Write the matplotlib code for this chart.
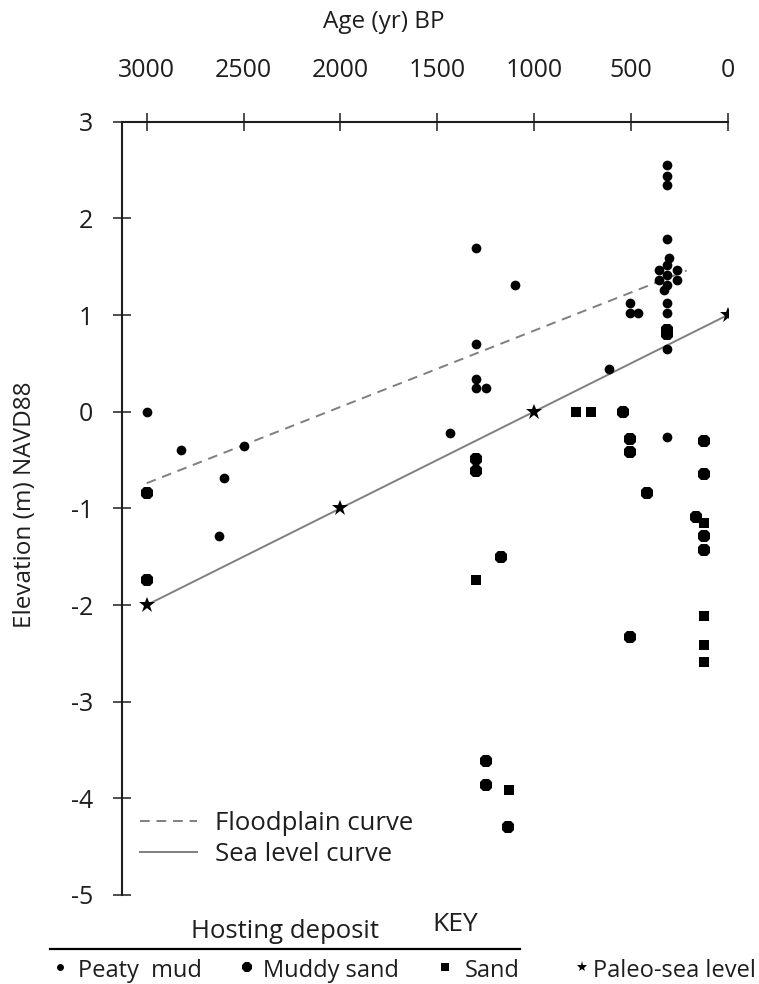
import numpy as np
import matplotlib
matplotlib.use("Agg")
import matplotlib.pyplot as plt
from matplotlib.lines import Line2D

plt.rcParams['font.family'] = ['Open Sans', 'DejaVu Sans']

# ---- data (age in yr BP, elevation in m NAVD88) ----
peaty_age = [3000, 2823, 2500, 2600, 2625, 315, 315, 315, 1300, 1097, 315, 305,
             356, 263, 356, 263, 315, 315, 315, 329, 504, 504, 465, 315, 315,
             315, 614, 1300, 1300, 1300, 1248, 1434, 315]
peaty_elev = [0.0, -0.40, -0.35, -0.69, -1.29, 2.55, 2.44, 2.34, 1.69, 1.31, 1.79, 1.59,
              1.47, 1.47, 1.36, 1.36, 1.52, 1.41, 1.31, 1.26, 1.12, 1.02, 1.02, 1.12, 1.02,
              0.65, 0.44, 0.70, 0.34, 0.24, 0.24, -0.22, -0.26]

muddy_age = [3000, 3000, 315, 315, 542, 504, 504, 122, 122, 1300, 1300, 418,
             164, 122, 122, 1169, 504, 1250, 1250, 1133]
muddy_elev = [-0.84, -1.74, 0.85, 0.80, 0.0, -0.28, -0.42, -0.30, -0.64, -0.49, -0.61, -0.84,
              -1.09, -1.29, -1.43, -1.50, -2.33, -3.61, -3.86, -4.30]

sand_age = [783, 707, 122, 1300, 122, 122, 122, 1128]
sand_elev = [0.0, 0.0, -1.15, -1.74, -2.11, -2.41, -2.59, -3.91]

paleo_age = [3000, 2000, 1000, 0]
paleo_elev = [-2, -1, 0, 1]

flood_age = [3000, 212]
flood_elev = [-0.74, 1.46]

xticks = [3000, 2500, 2000, 1500, 1000, 500, 0]
yticks = [3, 2, 1, 0, -1, -2, -3, -4, -5]

W, H = 759, 984
fig = plt.figure(figsize=(W / 100, H / 100), dpi=100)
ax = fig.add_axes([121.7 / W, 1 - 895 / H, (727.7 - 121.7) / W, (895 - 121.7) / H])

gray = '#7f7f7f'
ink = '#1e1e1e'
fl, = ax.plot(flood_age, flood_elev, color=gray, lw=1.4, ls=(0, (5, 3.5)), zorder=1)
sl, = ax.plot(paleo_age, paleo_elev, color=gray, lw=1.4, zorder=1)

ax.plot(peaty_age, peaty_elev, 'o', color='black', ms=7, mew=0, ls='none', zorder=3)
ax.plot(muddy_age, muddy_elev, '8', color='black', ms=10, mew=0, ls='none', zorder=3)
ax.plot(sand_age, sand_elev, 's', color='black', ms=7.8, mew=0, ls='none', zorder=3)
ax.plot(paleo_age, paleo_elev, '*', color='black', ms=12, mew=0, ls='none', zorder=4)

ax.set_xlim(3129, 0)
ax.set_ylim(-5, 3)
ax.set_xticks(xticks)
ax.set_yticks(yticks)
ax.set_xticklabels([str(t) for t in xticks])
ax.set_yticklabels([str(t) for t in yticks])
ax.xaxis.tick_top()
ax.tick_params(axis='both', direction='inout', length=13.5, width=1.1,
               labelsize=18, colors=ink)
ax.tick_params(axis='x', pad=21)
ax.tick_params(axis='y', pad=14)
for s in ['bottom', 'right']:
    ax.spines[s].set_visible(False)
for s in ['top', 'left']:
    ax.spines[s].set_linewidth(1.5)
    ax.spines[s].set_color(ink)

fig.text(384 / W, 1 - 22 / H, 'Age (yr) BP', ha='center', va='center',
         fontsize=17.5, color=ink)
fig.text(25 / W, 1 - 505 / H, 'Elevation (m) NAVD88', rotation=90,
         ha='center', va='center', fontsize=17.5, color=ink)

leg = ax.legend([fl, sl], ['Floodplain curve', 'Sea level curve'],
                loc='upper left', bbox_to_anchor=(140 / W, 1 - 811 / H),
                bbox_transform=fig.transFigure, frameon=False, fontsize=18.5,
                handlelength=2.2, handletextpad=0.7, labelspacing=0.22,
                borderpad=0, borderaxespad=0)
for t in leg.get_texts():
    t.set_color(ink)

# ---- bottom key, drawn in pixel coordinates ----
key = fig.add_axes([0, 0, 1, 1], zorder=-1)
key.set_xlim(0, W)
key.set_ylim(H, 0)
key.axis('off')
key.text(285, 938, 'Hosting deposit', ha='center', va='baseline', fontsize=18.5, color=ink)
key.text(455, 931, 'KEY', ha='center', va='baseline', fontsize=19, color=ink)
key.plot([50, 520], [949, 949], color='black', lw=1.6)

key_labels = ['Peaty  mud', 'Muddy sand', 'Sand', 'Paleo-sea level']
key_markers = ['o', '8', 's', '*']
key_sizes = [5, 8, 6, 8]
key_mx = [60, 247, 445, 582]
key_tx = [78, 263, 465, 593]
for lab, m, s, mx, tx in zip(key_labels, key_markers, key_sizes, key_mx, key_tx):
    key.plot([mx], [967], m, color='black', ms=s, mew=0)
    key.text(tx, 977, lab, ha='left', va='baseline', fontsize=17, color=ink)

fig.savefig('out.png', dpi=100)
